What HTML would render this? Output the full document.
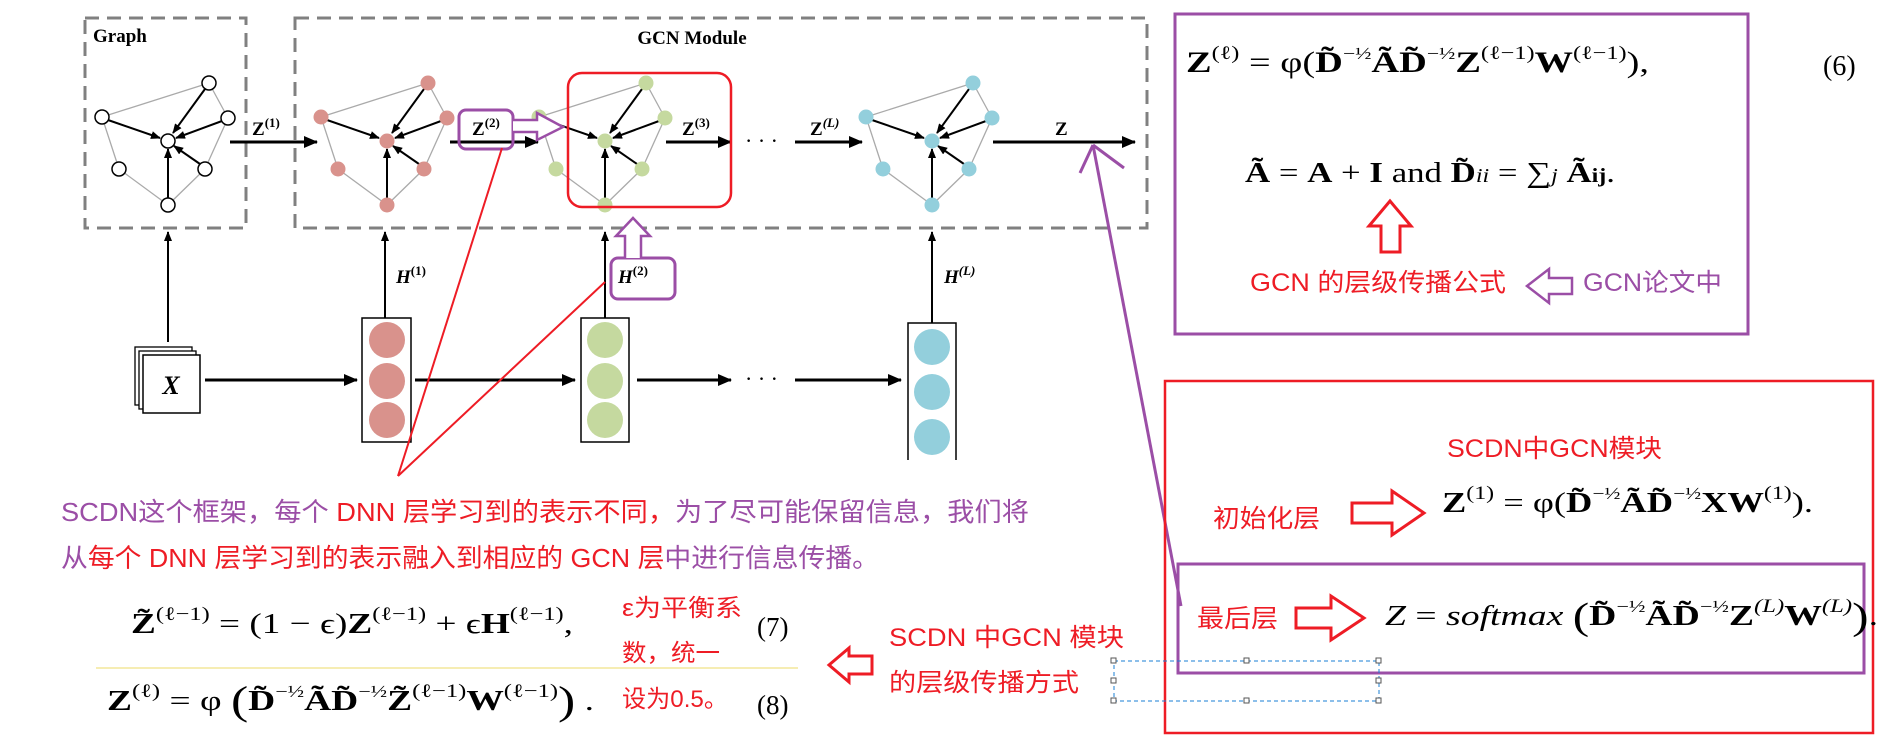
<!DOCTYPE html>
<html><head><meta charset="utf-8"><style>
html,body{margin:0;padding:0;background:#fff;}
svg{display:block;}
.s{font-family:"Liberation Serif",serif;}
.c{font-family:"Liberation Sans","Noto Sans CJK SC",sans-serif;}
</style></head><body>
<svg width="1886" height="743" viewBox="0 0 1886 743" xmlns="http://www.w3.org/2000/svg">
<defs>
<marker id="ah" markerWidth="10" markerHeight="8" refX="9" refY="4" orient="auto" markerUnits="userSpaceOnUse"><path d="M0,0 L10,4 L0,8 z" fill="#000"/></marker>
<marker id="ahb" markerWidth="14" markerHeight="12" refX="13" refY="6" orient="auto" markerUnits="userSpaceOnUse"><path d="M0,0 L14,6 L0,12 z" fill="#000"/></marker>
<g id="g">
<g stroke="#aaa" stroke-width="1.3" fill="none">
<line x1="-66" y1="-24" x2="41" y2="-58"/><line x1="41" y1="-58" x2="60" y2="-23"/>
<line x1="-66" y1="-24" x2="-49" y2="28"/><line x1="-49" y1="28" x2="0" y2="64"/>
<line x1="0" y1="64" x2="37" y2="28"/><line x1="37" y1="28" x2="60" y2="-23"/>
</g>
<g stroke="#000" stroke-width="2" marker-end="url(#ah)">
<line x1="-60" y1="-21" x2="-8" y2="-3"/><line x1="37" y1="-52" x2="5" y2="-8"/>
<line x1="54" y1="-20" x2="8" y2="-3"/><line x1="32" y1="23" x2="6" y2="5"/>
<line x1="0" y1="57" x2="0" y2="8"/>
</g>
</g>
</defs>

<!-- dashed boxes -->
<rect x="85" y="18" width="161" height="210" fill="none" stroke="#808080" stroke-width="3" stroke-dasharray="14 8"/>
<rect x="295" y="18" width="852" height="210" fill="none" stroke="#808080" stroke-width="3" stroke-dasharray="14 8"/>
<text x="93" y="42" class="s" font-size="19" font-weight="bold">Graph</text>
<text x="692" y="44" class="s" font-size="19" font-weight="bold" text-anchor="middle">GCN Module</text>

<!-- graphs -->
<g transform="translate(168,141)"><use href="#g"/>
<g fill="#fff" stroke="#000" stroke-width="1.5"><circle cx="41" cy="-58" r="7"/><circle cx="-66" cy="-24" r="7"/><circle cx="60" cy="-23" r="7"/><circle cx="0" cy="0" r="7"/><circle cx="-49" cy="28" r="7"/><circle cx="37" cy="28" r="7"/><circle cx="0" cy="64" r="7"/></g></g>
<g transform="translate(387,141)"><use href="#g"/>
<g fill="#d9928c"><circle cx="41" cy="-58" r="7.5"/><circle cx="-66" cy="-24" r="7.5"/><circle cx="60" cy="-23" r="7.5"/><circle cx="0" cy="0" r="7.5"/><circle cx="-49" cy="28" r="7.5"/><circle cx="37" cy="28" r="7.5"/><circle cx="0" cy="64" r="7.5"/></g></g>
<g transform="translate(605,141)"><use href="#g"/>
<g fill="#c5d99f"><circle cx="41" cy="-58" r="7.5"/><circle cx="-66" cy="-24" r="7.5"/><circle cx="60" cy="-23" r="7.5"/><circle cx="0" cy="0" r="7.5"/><circle cx="-49" cy="28" r="7.5"/><circle cx="37" cy="28" r="7.5"/><circle cx="0" cy="64" r="7.5"/></g></g>
<g transform="translate(932,141)"><use href="#g"/>
<g fill="#93cfdc"><circle cx="41" cy="-58" r="7.5"/><circle cx="-66" cy="-24" r="7.5"/><circle cx="60" cy="-23" r="7.5"/><circle cx="0" cy="0" r="7.5"/><circle cx="-49" cy="28" r="7.5"/><circle cx="37" cy="28" r="7.5"/><circle cx="0" cy="64" r="7.5"/></g></g>

<!-- horizontal arrows top -->
<g stroke="#000" stroke-width="3" marker-end="url(#ahb)">
<line x1="230" y1="142" x2="317" y2="142"/>
<line x1="450" y1="142" x2="538" y2="142"/>
<line x1="666" y1="142" x2="731" y2="142"/>
<line x1="795" y1="142" x2="862" y2="142"/>
<line x1="993" y1="142" x2="1135" y2="142"/>
</g>
<text x="745" y="148" class="s" font-size="22">· · ·</text>
<g class="s" font-weight="bold" font-size="19">
<text x="252" y="135">Z<tspan font-size="13" dy="-8">(1)</tspan></text>
<text x="472" y="135">Z<tspan font-size="13" dy="-8">(2)</tspan></text>
<text x="682" y="135">Z<tspan font-size="13" dy="-8">(3)</tspan></text>
<text x="810" y="135">Z<tspan font-size="13" dy="-8" font-style="italic">(L)</tspan></text>
<text x="1055" y="135">Z</text>
</g>

<!-- Z2 purple box and hollow arrow -->
<rect x="459" y="110" width="54" height="39" rx="7" fill="none" stroke="#9b4ea6" stroke-width="3"/>
<path d="M513,120 L537,120 L537,113 L563,127 L537,140 L537,132 L513,132" fill="#fff" stroke="#9b4ea6" stroke-width="2.5"/>
<!-- red rounded box -->
<rect x="568" y="73" width="163" height="134" rx="14" fill="none" stroke="#ee1c25" stroke-width="2.5"/>

<!-- bottom: X stack -->
<rect x="135" y="347" width="57" height="58" fill="#fff" stroke="#000" stroke-width="1.3"/>
<rect x="139" y="351" width="57" height="58" fill="#fff" stroke="#000" stroke-width="1.3"/>
<rect x="143" y="355" width="57" height="58" fill="#fff" stroke="#000" stroke-width="1.5"/>
<text x="171" y="394" class="s" font-size="26" font-style="italic" font-weight="bold" text-anchor="middle">X</text>

<g stroke="#000" stroke-width="2" marker-end="url(#ah)">
<line x1="168" y1="342" x2="168" y2="232"/>
<line x1="385" y1="318" x2="385" y2="232"/>
<line x1="605" y1="318" x2="605" y2="232"/>
<line x1="932" y1="323" x2="932" y2="232"/>
</g>
<g stroke="#000" stroke-width="3" marker-end="url(#ahb)">
<line x1="205" y1="380" x2="357" y2="380"/>
<line x1="415" y1="380" x2="575" y2="380"/>
<line x1="637" y1="380" x2="731" y2="380"/>
<line x1="795" y1="380" x2="901" y2="380"/>
</g>
<text x="745" y="386" class="s" font-size="22">· · ·</text>

<!-- columns -->
<rect x="362" y="318" width="49" height="124" fill="#fff" stroke="#000" stroke-width="1.5"/>
<g fill="#d9928c"><ellipse cx="387" cy="340" rx="18" ry="18"/><ellipse cx="387" cy="381" rx="18" ry="18"/><ellipse cx="387" cy="420" rx="18" ry="18"/></g>
<rect x="581" y="318" width="48" height="124" fill="#fff" stroke="#000" stroke-width="1.5"/>
<g fill="#c5d99f"><ellipse cx="605" cy="340" rx="18" ry="18"/><ellipse cx="605" cy="381" rx="18" ry="18"/><ellipse cx="605" cy="420" rx="18" ry="18"/></g>
<path d="M908,460 L908,323 L956,323 L956,460" fill="#fff" stroke="#000" stroke-width="1.5"/>
<g fill="#93cfdc"><ellipse cx="932" cy="347" rx="18" ry="18"/><ellipse cx="932" cy="392" rx="18" ry="18"/><ellipse cx="932" cy="437" rx="18" ry="18"/></g>

<g class="s" font-weight="bold" font-style="italic" font-size="19">
<text x="396" y="283">H<tspan font-size="13" dy="-8" font-style="normal">(1)</tspan></text>
<text x="618" y="283">H<tspan font-size="13" dy="-8" font-style="normal">(2)</tspan></text>
<text x="944" y="283">H<tspan font-size="13" dy="-8">(L)</tspan></text>
</g>
<rect x="611" y="258" width="64" height="41" rx="7" fill="none" stroke="#9b4ea6" stroke-width="3"/>
<path d="M625,258 L625,236 L616,236 L633,218 L650,236 L641,236 L641,258" fill="#fff" stroke="#9b4ea6" stroke-width="2.5"/>

<!-- red lines -->
<g stroke="#ee1c25" stroke-width="2" fill="none">
<line x1="502" y1="148" x2="398" y2="476"/>
<line x1="605" y1="282" x2="398" y2="476"/>
</g>
<!-- purple pointer -->
<g stroke="#9b4ea6" stroke-width="3" fill="none">
<line x1="1093" y1="145" x2="1181" y2="606"/>
<line x1="1093" y1="145" x2="1080" y2="173"/>
<line x1="1093" y1="145" x2="1124" y2="168"/>
</g>

<!-- top right purple box -->
<rect x="1175" y="14" width="573" height="320" fill="none" stroke="#9b4ea6" stroke-width="3"/>
<text x="1186" y="72" class="s" font-size="30" textLength="463" lengthAdjust="spacingAndGlyphs"><tspan font-weight="bold">Z</tspan><tspan font-size="19" dy="-13">(ℓ)</tspan><tspan dy="13"> = φ(</tspan><tspan font-weight="bold">D̃</tspan><tspan font-size="17" dy="-13">−½</tspan><tspan dy="13" font-weight="bold">ÃD̃</tspan><tspan font-size="17" dy="-13">−½</tspan><tspan dy="13" font-weight="bold">Z</tspan><tspan font-size="19" dy="-13">(ℓ−1)</tspan><tspan dy="13" font-weight="bold">W</tspan><tspan font-size="19" dy="-13">(ℓ−1)</tspan><tspan dy="13">),</tspan></text>
<text x="1823" y="75" class="s" font-size="28">(6)</text>
<text x="1245" y="182" class="s" font-size="29" textLength="370" lengthAdjust="spacingAndGlyphs"><tspan font-weight="bold">Ã</tspan> = <tspan font-weight="bold">A</tspan> + <tspan font-weight="bold">I</tspan> and <tspan font-weight="bold">D̃</tspan><tspan font-style="italic" font-size="20">ii</tspan> = ∑<tspan font-style="italic" font-size="20">j</tspan> <tspan font-weight="bold">Ã</tspan><tspan font-weight="bold" font-size="20">ij</tspan>.</text>
<path d="M1381,252 L1381,226 L1369,226 L1390,201 L1411,226 L1400,226 L1400,252 Z" fill="#fff" stroke="#ee1c25" stroke-width="3"/>
<text x="1250" y="291" class="c" font-size="25" fill="#ee1c25" textLength="256" lengthAdjust="spacingAndGlyphs">GCN 的层级传播公式</text>
<path d="M1572,278 L1549,278 L1549,269 L1527,286 L1549,303 L1549,294 L1572,294 Z" fill="#fff" stroke="#9b4ea6" stroke-width="2.5"/>
<text x="1583" y="291" class="c" font-size="25" fill="#9b4ea6" textLength="139" lengthAdjust="spacingAndGlyphs">GCN论文中</text>

<!-- red box bottom right -->
<rect x="1165" y="381" width="708" height="352" fill="none" stroke="#ee1c25" stroke-width="2.5"/>
<text x="1447" y="457" class="c" font-size="25" fill="#ee1c25" textLength="215" lengthAdjust="spacingAndGlyphs">SCDN中GCN模块</text>
<text x="1213" y="527" class="c" font-size="25" fill="#ee1c25" textLength="107" lengthAdjust="spacingAndGlyphs">初始化层</text>
<path d="M1352,503 L1392,503 L1392,491 L1424,513 L1392,535 L1392,523 L1352,523 Z" fill="#fff" stroke="#ee1c25" stroke-width="3"/>
<text x="1442" y="512" class="s" font-size="29" textLength="371" lengthAdjust="spacingAndGlyphs"><tspan font-weight="bold">Z</tspan><tspan font-size="19" dy="-13">(1)</tspan><tspan dy="13"> = φ(</tspan><tspan font-weight="bold">D̃</tspan><tspan font-size="17" dy="-13">−½</tspan><tspan dy="13" font-weight="bold">ÃD̃</tspan><tspan font-size="17" dy="-13">−½</tspan><tspan dy="13" font-weight="bold">XW</tspan><tspan font-size="19" dy="-13">(1)</tspan><tspan dy="13">).</tspan></text>
<rect x="1178" y="564" width="686" height="109" fill="none" stroke="#9b4ea6" stroke-width="3"/>
<text x="1197" y="627" class="c" font-size="25" fill="#ee1c25" textLength="81" lengthAdjust="spacingAndGlyphs">最后层</text>
<path d="M1296,608 L1331,608 L1331,596 L1364,618 L1331,640 L1331,628 L1296,628 Z" fill="#fff" stroke="#ee1c25" stroke-width="3"/>
<text x="1385" y="625" class="s" font-size="29" textLength="493" lengthAdjust="spacingAndGlyphs"><tspan font-style="italic">Z</tspan> = <tspan font-style="italic">softmax</tspan> <tspan font-size="38" dy="4">(</tspan><tspan dy="-4" font-weight="bold">D̃</tspan><tspan font-size="17" dy="-13">−½</tspan><tspan dy="13" font-weight="bold">ÃD̃</tspan><tspan font-size="17" dy="-13">−½</tspan><tspan dy="13" font-weight="bold">Z</tspan><tspan font-size="19" dy="-13" font-style="italic">(L)</tspan><tspan dy="13" font-weight="bold">W</tspan><tspan font-size="19" dy="-13" font-style="italic">(L)</tspan><tspan font-size="38" dy="17">)</tspan><tspan dy="-4">.</tspan></text>

<!-- selection rect -->
<rect x="1114" y="661" width="265" height="40" fill="none" stroke="#1a7fd6" stroke-width="1" stroke-dasharray="4 3"/>
<g fill="#fff" stroke="#555" stroke-width="1">
<rect x="1111" y="658" width="5" height="5"/><rect x="1244" y="658" width="5" height="5"/><rect x="1376" y="658" width="5" height="5"/>
<rect x="1111" y="678" width="5" height="5"/><rect x="1376" y="678" width="5" height="5"/>
<rect x="1111" y="698" width="5" height="5"/><rect x="1244" y="698" width="5" height="5"/><rect x="1376" y="698" width="5" height="5"/>
</g>

<!-- Chinese paragraph -->
<text x="61" y="521" class="c" font-size="26" textLength="968" lengthAdjust="spacingAndGlyphs"><tspan fill="#9b4ea6">SCDN这个框架，每个 </tspan><tspan fill="#ee1c25">DNN 层学习到的表示不同，</tspan><tspan fill="#9b4ea6">为了尽可能保留信息，我们将</tspan></text>
<text x="61" y="567" class="c" font-size="26" textLength="818" lengthAdjust="spacingAndGlyphs"><tspan fill="#9b4ea6">从</tspan><tspan fill="#ee1c25">每个 DNN 层学习到的表示融入到相应的 GCN 层</tspan><tspan fill="#9b4ea6">中进行信息传播。</tspan></text>

<!-- equations 7, 8 -->
<text x="131" y="633" class="s" font-size="29" textLength="442" lengthAdjust="spacingAndGlyphs"><tspan font-weight="bold">Z̃</tspan><tspan font-size="19" dy="-13">(ℓ−1)</tspan><tspan dy="13"> = (1 − ϵ)</tspan><tspan font-weight="bold">Z</tspan><tspan font-size="19" dy="-13">(ℓ−1)</tspan><tspan dy="13"> + ϵ</tspan><tspan font-weight="bold">H</tspan><tspan font-size="19" dy="-13">(ℓ−1)</tspan><tspan dy="13">,</tspan></text>
<line x1="96" y1="668" x2="798" y2="668" stroke="#f3e79a" stroke-width="1.5"/>
<text x="107" y="710" class="s" font-size="29" textLength="487" lengthAdjust="spacingAndGlyphs"><tspan font-weight="bold">Z</tspan><tspan font-size="19" dy="-13">(ℓ)</tspan><tspan dy="13"> = φ </tspan><tspan font-size="40" dy="4">(</tspan><tspan dy="-4" font-weight="bold">D̃</tspan><tspan font-size="17" dy="-13">−½</tspan><tspan dy="13" font-weight="bold">ÃD̃</tspan><tspan font-size="17" dy="-13">−½</tspan><tspan dy="13" font-weight="bold">Z̃</tspan><tspan font-size="19" dy="-13">(ℓ−1)</tspan><tspan dy="13" font-weight="bold">W</tspan><tspan font-size="19" dy="-13">(ℓ−1)</tspan><tspan font-size="40" dy="17">)</tspan><tspan dy="-4"> .</tspan></text>
<g class="c" font-size="24" fill="#ee1c25">
<text x="622" y="616" textLength="120" lengthAdjust="spacingAndGlyphs">ε为平衡系</text>
<text x="622" y="661" textLength="98" lengthAdjust="spacingAndGlyphs">数，统一</text>
<text x="622" y="707" textLength="106" lengthAdjust="spacingAndGlyphs">设为0.5。</text>
</g>
<text x="757" y="636" class="s" font-size="27">(7)</text>
<text x="757" y="714" class="s" font-size="27">(8)</text>
<path d="M872,656 L849,656 L849,648 L829,665 L849,682 L849,674 L872,674 Z" fill="#fff" stroke="#ee1c25" stroke-width="3"/>
<text x="889" y="646" class="c" font-size="25" fill="#ee1c25" textLength="235" lengthAdjust="spacingAndGlyphs">SCDN 中GCN 模块</text>
<text x="889" y="691" class="c" font-size="25" fill="#ee1c25" textLength="190" lengthAdjust="spacingAndGlyphs">的层级传播方式</text>
</svg>
</body></html>
